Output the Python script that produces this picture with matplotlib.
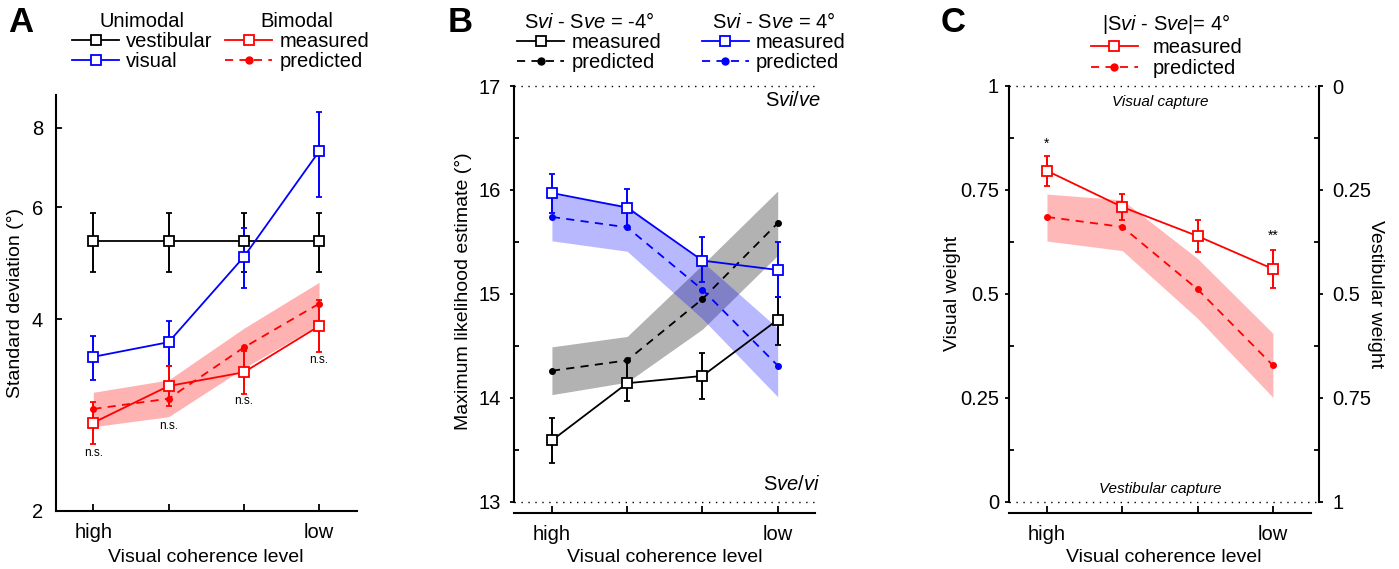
import matplotlib
matplotlib.use("Agg")
import matplotlib.pyplot as plt
from matplotlib.lines import Line2D

plt.rcParams['font.family'] = ['Liberation Sans', 'DejaVu Sans']
plt.rcParams['mathtext.fontset'] = 'custom'
plt.rcParams['mathtext.rm'] = 'Liberation Sans'
plt.rcParams['mathtext.it'] = 'Liberation Sans:italic'
plt.rcParams['font.size'] = 14.5
plt.rcParams['axes.labelsize'] = 14

# NIVEIS DE COERENCIA
niveis = [1, 2, 3, 4]
rotulos_x = ['high', '', '', 'low']

# A - DESVIO PADRAO (graus)
vest_sd = [5.31, 5.31, 5.31, 5.31]
vest_sd_sup = [5.88, 5.88, 5.88, 5.88]
vest_sd_inf = [4.75, 4.75, 4.75, 4.75]
vis_sd = [3.49, 3.68, 5.01, 7.34]
vis_sd_sup = [3.76, 3.98, 5.57, 8.47]
vis_sd_inf = [3.21, 3.38, 4.48, 6.22]
bim_sd = [2.75, 3.14, 3.30, 3.90]
bim_sd_sup = [2.96, 3.38, 3.57, 4.28]
bim_sd_inf = [2.55, 2.92, 3.05, 3.55]
pred_sd = [2.89, 3.00, 3.61, 4.23]
pred_sd_sup = [3.07, 3.21, 3.87, 4.57]
pred_sd_inf = [2.71, 2.81, 3.35, 3.92]
ns_y = [2.46, 2.72, 2.97, 3.45]

# B - ESTIMATIVA DE MAXIMA VEROSSIMILHANCA
neg_med = [13.59, 14.14, 14.21, 14.75]
neg_med_sup = [13.81, 14.35, 14.43, 14.97]
neg_med_inf = [13.37, 13.97, 13.99, 14.51]
neg_pred = [14.26, 14.36, 14.95, 15.68]
neg_pred_sup = [14.49, 14.59, 15.28, 15.99]
neg_pred_inf = [14.03, 14.15, 14.66, 15.37]
pos_med = [15.97, 15.83, 15.32, 15.23]
pos_med_sup = [16.15, 16.01, 15.55, 15.50]
pos_med_inf = [15.78, 15.65, 15.11, 14.97]
pos_pred = [15.74, 15.64, 15.04, 14.31]
pos_pred_sup = [15.96, 15.85, 15.31, 14.67]
pos_pred_inf = [15.51, 15.41, 14.76, 14.01]

# C - PESO VISUAL
peso_med = [0.796, 0.709, 0.639, 0.560]
peso_med_sup = [0.832, 0.741, 0.677, 0.605]
peso_med_inf = [0.760, 0.678, 0.601, 0.515]
peso_pred = [0.685, 0.661, 0.511, 0.328]
peso_pred_sup = [0.740, 0.726, 0.585, 0.405]
peso_pred_inf = [0.627, 0.604, 0.441, 0.251]
estrelas = ['*', '', '', '**']
estrelas_y = [0.86, 0, 0, 0.64]

VERM = '#ff0000'
AZUL = '#0000ff'
TRACO = (0, (4.5, 3.5))
W, H = 1399, 569

fig = plt.figure(figsize=(13.99, 5.69), dpi=100)
ax_a = fig.add_axes([55.7 / W, 1 - 510.7 / H, 301 / W, 415.7 / H])
ax_b = fig.add_axes([514.3 / W, 1 - 512.7 / H, 301 / W, 426.7 / H])
ax_c = fig.add_axes([1009.3 / W, 1 - 512.7 / H, 309.9 / W, 426.7 / H])


def barras(ax, y, sup, inf, cor, **kw):
    err = [[v - b for v, b in zip(y, inf)], [a - v for v, a in zip(y, sup)]]
    ax.errorbar(niveis, y, yerr=err, color=cor, lw=1.3, marker='s', ms=6.5,
                mfc='white', mec=cor, mew=1.3, capsize=2.2, capthick=1.3,
                elinewidth=1.4, zorder=4, **kw)


def previsto(ax, y, sup, inf, cor, alfa):
    ax.fill_between(niveis, inf, sup, color=cor, alpha=alfa, lw=0, zorder=1)
    ax.plot(niveis, y, color=cor, lw=1.3, linestyle=TRACO, marker='o', ms=4,
            zorder=3)


def eixo_x(ax, yrot):
    ax.set_xticks(niveis)
    ax.set_xticklabels(rotulos_x)
    ax.tick_params(axis='x', direction='in', length=5, width=1.3, pad=9)
    ax.set_xlabel('Visual coherence level')
    ax.xaxis.set_label_coords(0.5, yrot)
    for lado in ['top', 'right']:
        ax.spines[lado].set_visible(False)
    for lado in ['left', 'bottom']:
        ax.spines[lado].set_linewidth(1.5)


h_med = lambda c: Line2D([], [], color=c, lw=1.3, marker='s', ms=6.5, mfc='white', mec=c, mew=1.3)
h_pred = lambda c: Line2D([], [], color=c, lw=1.3, linestyle=TRACO, marker='o', ms=5)
leg_kw = dict(frameon=False, fontsize=14.5, title_fontsize=14.5, borderpad=0,
              borderaxespad=0, handlelength=2.35, handletextpad=0.35,
              labelspacing=0.05, loc='upper left', bbox_transform=fig.transFigure)

# ---------------- A ----------------
previsto(ax_a, pred_sd, pred_sd_sup, pred_sd_inf, VERM, 0.3)
barras(ax_a, vest_sd, vest_sd_sup, vest_sd_inf, 'black')
barras(ax_a, vis_sd, vis_sd_sup, vis_sd_inf, AZUL)
barras(ax_a, bim_sd, bim_sd_sup, bim_sd_inf, VERM)
for x, y in zip(niveis, ns_y):
    ax_a.text(x, y, 'n.s.', fontsize=8.5, ha='center', va='center')
ax_a.set_yscale('log')
ax_a.set_ylim(2, 9)
ax_a.set_xlim(0.5, 4.5)
ax_a.set_yticks([2, 4, 6, 8])
ax_a.set_yticklabels(['2', '4', '6', '8'])
ax_a.yaxis.set_minor_locator(matplotlib.ticker.NullLocator())
ax_a.tick_params(axis='y', direction='in', length=4, width=1.3, pad=9)
ax_a.set_ylabel('Standard deviation (°)')
ax_a.yaxis.set_label_coords(-0.105, 0.5)
eixo_x(ax_a, -0.093)

fig.legend([h_med('black'), h_med(AZUL)], ['vestibular', 'visual'], title='Unimodal',
           bbox_to_anchor=(72 / W, 1 - 12 / H), **leg_kw)
fig.legend([h_med(VERM), h_pred(VERM)], ['measured', 'predicted'], title='Bimodal',
           bbox_to_anchor=(225 / W, 1 - 12 / H), **leg_kw)

# ---------------- B ----------------
ax_b.hlines([13, 17], 0.5, 4.5, colors='black', linestyles=(0, (1, 4)), lw=1, clip_on=False)
previsto(ax_b, neg_pred, neg_pred_sup, neg_pred_inf, 'black', 0.3)
previsto(ax_b, pos_pred, pos_pred_sup, pos_pred_inf, AZUL, 0.28)
barras(ax_b, neg_med, neg_med_sup, neg_med_inf, 'black')
barras(ax_b, pos_med, pos_med_sup, pos_med_inf, AZUL)
ax_b.text(4.57, 16.86, r'S$\mathit{vi/ve}$', ha='right', va='center')
ax_b.text(4.57, 13.17, r'S$\mathit{ve/vi}$', ha='right', va='center')
ax_b.set_xlim(0.5, 4.5)
ax_b.set_ylim(12.894, 17)
ax_b.set_yticks([13, 14, 15, 16, 17])
ax_b.set_yticks([13.5, 14.5, 15.5, 16.5], minor=True)
ax_b.tick_params(axis='y', which='major', direction='out', length=3, width=1.3, pad=6.5)
ax_b.tick_params(axis='y', which='minor', direction='in', length=3.5, width=1.3)
ax_b.spines['left'].set_bounds(13, 17)
ax_b.set_ylabel('Maximum likelihood estimate (°)')
ax_b.yaxis.set_label_coords(-0.14, 0.52)
eixo_x(ax_b, -0.086)

fig.legend([h_med('black'), h_pred('black')], ['measured', 'predicted'],
           title=r'S$\mathit{vi}$ - S$\mathit{ve}$ = -4°',
           bbox_to_anchor=(517 / W, 1 - 12 / H), **leg_kw)
fig.legend([h_med(AZUL), h_pred(AZUL)], ['measured', 'predicted'],
           title=r'S$\mathit{vi}$ - S$\mathit{ve}$ = 4°',
           bbox_to_anchor=(701.7 / W, 1 - 12 / H), **leg_kw)

# ---------------- C ----------------
ax_c.axhline(1, color='black', linestyle=(0, (1, 4)), lw=1, clip_on=False)
ax_c.axhline(0, color='black', linestyle=(0, (1, 4)), lw=1, clip_on=False)
previsto(ax_c, peso_pred, peso_pred_sup, peso_pred_inf, VERM, 0.28)
barras(ax_c, peso_med, peso_med_sup, peso_med_inf, VERM)
for x, s, y in zip(niveis, estrelas, estrelas_y):
    if s:
        ax_c.text(x, y, s, fontsize=10, ha='center', va='center')
ax_c.text(2.5, 0.962, 'Visual capture', style='italic', fontsize=11, ha='center', va='center')
ax_c.text(2.5, 0.03, 'Vestibular capture', style='italic', fontsize=11, ha='center', va='center')
ax_c.set_xlim(0.5, 4.615)
ax_c.set_ylim(-0.0265, 1)
ticks_c = [0, 0.25, 0.5, 0.75, 1]
menores_c = [0.125, 0.375, 0.625, 0.875]
ax_c.set_yticks(ticks_c)
ax_c.set_yticklabels(['0', '0.25', '0.5', '0.75', '1'])
ax_c.set_yticks(menores_c, minor=True)
ax_c.tick_params(axis='y', which='major', direction='out', length=3, width=1.3, pad=4.5)
ax_c.tick_params(axis='y', which='minor', direction='in', length=3.5, width=1.3)
ax_c.spines['left'].set_bounds(0, 1)
ax_c.set_ylabel('Visual weight')
ax_c.yaxis.set_label_coords(-0.156, 0.513)
eixo_x(ax_c, -0.086)
ax_c.spines['bottom'].set_bounds(0.5, 4.5)

ax_c2 = ax_c.twinx()
ax_c2.set_ylim(1.0265, 0)
ax_c2.set_yticks(ticks_c)
ax_c2.set_yticklabels(['0', '0.25', '0.5', '0.75', '1'])
ax_c2.set_yticks(menores_c, minor=True)
ax_c2.tick_params(axis='y', which='major', direction='out', length=3, width=1.3, pad=6.5)
ax_c2.tick_params(axis='y', which='minor', direction='in', length=3.5, width=1.3)
for lado in ['top', 'left', 'bottom']:
    ax_c2.spines[lado].set_visible(False)
ax_c2.spines['right'].set_bounds(0, 1)
ax_c2.spines['right'].set_linewidth(1.5)
ax_c2.set_ylabel('Vestibular weight', rotation=270, va='bottom')
ax_c2.yaxis.set_label_coords(1.154, 0.513)

leg_c = dict(leg_kw)
leg_c['handletextpad'] = 0.72
leg_c['labelspacing'] = 0.1
fig.legend([h_med(VERM), h_pred(VERM)], ['measured', 'predicted'],
           title=r'|S$\mathit{vi}$ - S$\mathit{ve}$|= 4°',
           bbox_to_anchor=(1090.7 / W, 1 - 12 / H), **leg_c)

# LETRAS DOS PAINEIS
for x, letra in [(8, 'A'), (448, 'B'), (941, 'C')]:
    fig.text(x / W, 1 - 6 / H, letra, fontsize=25, fontweight='bold', va='top')

fig.savefig('out.png', dpi=100)
